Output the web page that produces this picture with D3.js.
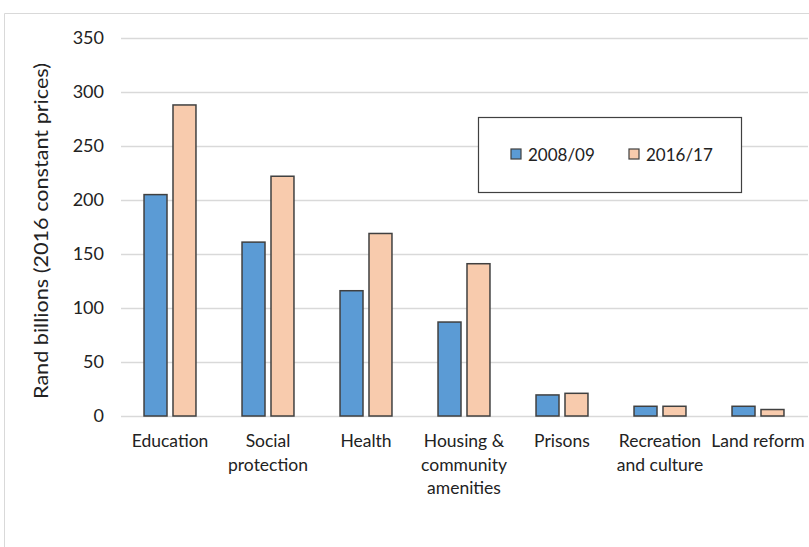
<html>
<head>
<meta charset="utf-8">
<style>
  body { margin: 0; background: #fff; }
  text { font-family: Lato, "Open Sans", sans-serif; fill: #222; }
</style>
</head>
<body>
<script src="https://d3js.org/d3.v7.min.js"></script>
<svg id="chart" width="809" height="547"></svg>
<script>
// values
var categories = ["Education", "Social protection", "Health", "Housing & community amenities", "Prisons", "Recreation and culture", "Land reform"];
var categoryLines = [["Education"], ["Social", "protection"], ["Health"], ["Housing &", "community", "amenities"], ["Prisons"], ["Recreation", "and culture"], ["Land reform"]];
var seriesNames = ["2008/09", "2016/17"];
var values2008 = [205, 161, 116, 87, 19.5, 9, 9];
var values2016 = [288, 222, 169, 141, 21, 9, 6];
var yTicks = [0, 50, 100, 150, 200, 250, 300, 350];
var colors = ["#5b9bd5", "#f8cbad"];

var svg = d3.select("#chart");

// outer chart frame (clipped on the right/bottom)
svg.append("path")
    .attr("d", "M4.5,547 V13.5 H809")
    .attr("fill", "none")
    .attr("stroke", "#d9d9d9")
    .attr("stroke-width", 1);

var x0 = d3.scaleBand().domain(categories).range([121, 807]).paddingInner(0.47).paddingOuter(0.235);
var x1 = d3.scaleBand().domain(seriesNames).range([0, x0.bandwidth()]).paddingInner(0.207);
var y = d3.scaleLinear().domain([0, 350]).range([416, 38]);

// gridlines
svg.append("g")
    .selectAll("line")
    .data(yTicks)
    .join("line")
    .attr("x1", 121).attr("x2", 808)
    .attr("y1", d => Math.round(y(d)) + 0.5).attr("y2", d => Math.round(y(d)) + 0.5)
    .attr("stroke", "#d9d9d9").attr("stroke-width", 1.3);

// y axis labels
var yAxis = d3.axisLeft(y).tickValues(yTicks).tickSize(0).tickPadding(0);
var ya = svg.append("g").attr("transform", "translate(104,0)").call(yAxis);
ya.select(".domain").remove();
ya.selectAll("text").attr("font-size", 18).attr("font-family", "Lato, 'Open Sans', sans-serif").attr("fill", "#222");

svg.append("text")
    .attr("transform", "translate(48,231) rotate(-90)")
    .attr("text-anchor", "middle")
    .attr("font-size", 19)
    .attr("textLength", 336)
    .attr("lengthAdjust", "spacingAndGlyphs")
    .text("Rand billions (2016 constant prices)");

// bars
var rows = categories.map((c, i) => ({ cat: c, vals: [values2008[i], values2016[i]] }));
var groups = svg.append("g").selectAll("g")
    .data(rows)
    .join("g")
    .attr("transform", d => "translate(" + x0(d.cat) + ",0)");

groups.selectAll("rect")
    .data(d => d.vals.map((v, j) => ({ key: seriesNames[j], v: v, j: j })))
    .join("rect")
    .attr("x", d => x1(d.key))
    .attr("y", d => y(d.v))
    .attr("width", x1.bandwidth())
    .attr("height", d => y(0) - y(d.v))
    .attr("fill", d => colors[d.j])
    .attr("stroke", "#404040")
    .attr("stroke-width", 1.5);

// category labels
var labels = svg.append("g").selectAll("text")
    .data(categories)
    .join("text")
    .attr("x", d => x0(d) + x0.bandwidth() / 2)
    .attr("y", 447)
    .attr("text-anchor", "middle")
    .attr("font-size", 17.5);
labels.each(function (d, i) {
    d3.select(this).selectAll("tspan")
        .data(categoryLines[i])
        .join("tspan")
        .attr("x", x0(d) + x0.bandwidth() / 2)
        .attr("dy", (t, k) => k === 0 ? 0 : 23.5)
        .text(t => t);
});

// legend
var legend = svg.append("g");
legend.append("rect")
    .attr("x", 478.5).attr("y", 117.5).attr("width", 263).attr("height", 75)
    .attr("fill", "#fff").attr("stroke", "#404040").attr("stroke-width", 1.2);
var legendX = [511, 629];
seriesNames.forEach((s, j) => {
    legend.append("rect")
        .attr("x", legendX[j]).attr("y", 149).attr("width", 10).attr("height", 10)
        .attr("fill", colors[j]).attr("stroke", "#404040").attr("stroke-width", 1.2);
    legend.append("text")
        .attr("x", legendX[j] + 17).attr("y", 161)
        .attr("font-size", 17)
        .text(s);
});
</script>
</body>
</html>
